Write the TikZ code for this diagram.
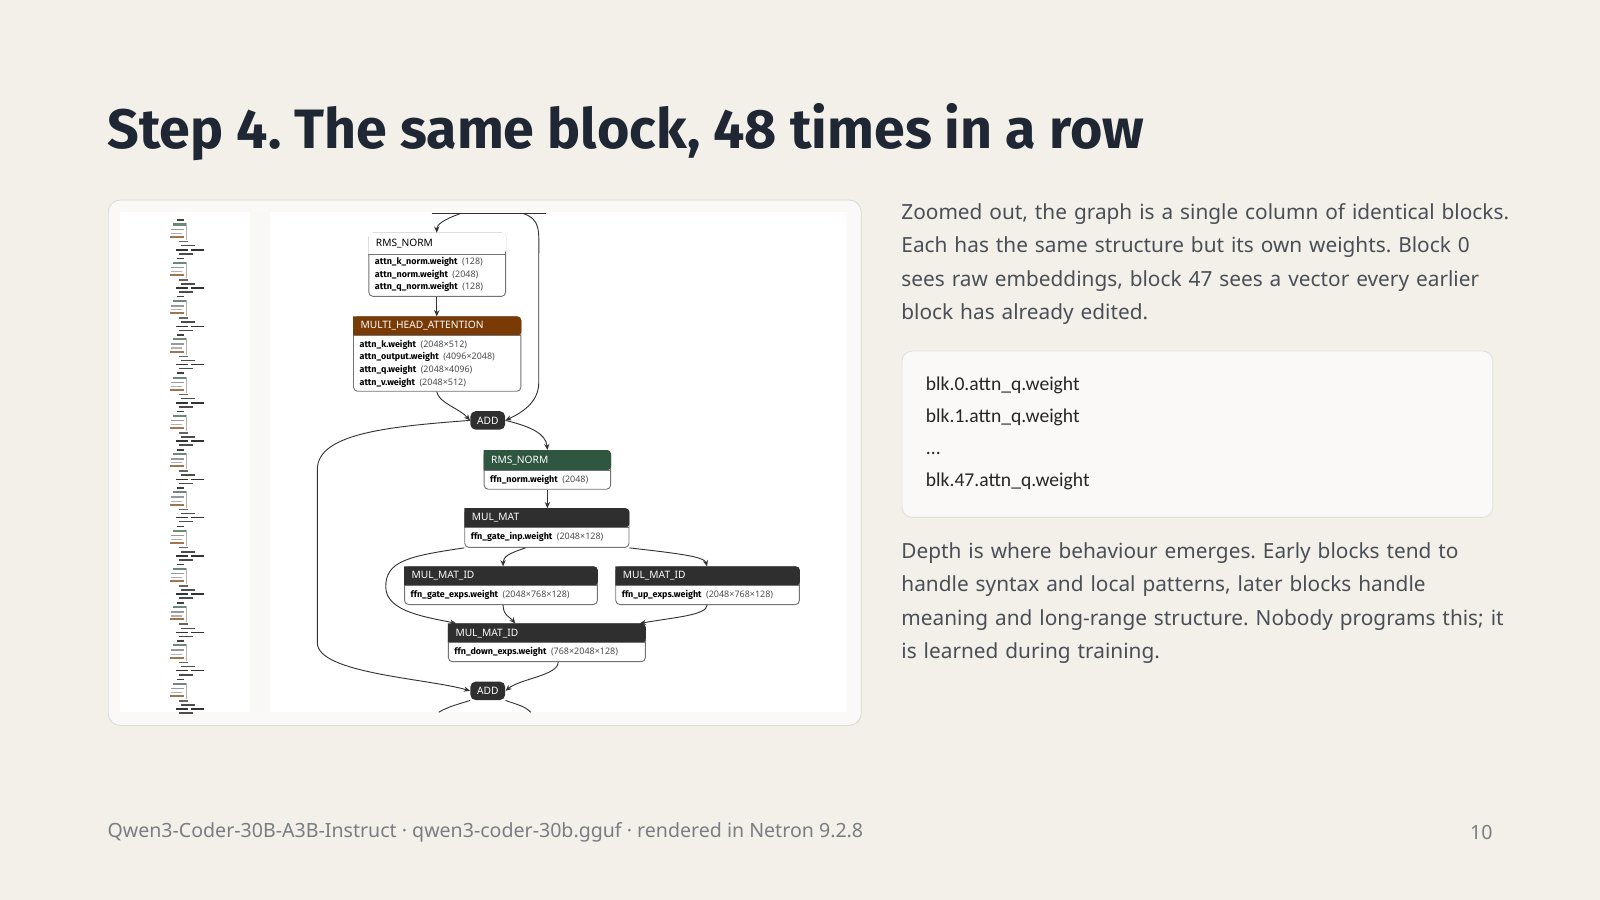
\documentclass[tikz,border=0pt]{standalone}
\usepackage{fontspec}
\setmainfont{Noto Sans}
\newfontfamily\codefont{Carlito}
\newfontfamily\headfont{Fira Sans}
\usetikzlibrary{arrows.meta}
\definecolor{pagebg}{HTML}{F3F0EA}
\definecolor{titlecol}{HTML}{1E2733}
\definecolor{bodycol}{HTML}{4A4F57}
\definecolor{notecol}{HTML}{7A7D82}
\definecolor{opdark}{HTML}{2F2F2F}
\definecolor{opbrown}{HTML}{7A3A06}
\definecolor{opgreen}{HTML}{2F5641}
\frenchspacing
\hyphenpenalty=10000
\exhyphenpenalty=10000
\tikzset{
  wire/.style={draw=black!80, line width=0.45pt, -{Stealth[length=3pt,width=2.6pt]}},
  plain/.style={draw=black!80, line width=0.45pt},
  addnode/.style={fill=opdark, rounded corners=2.5pt, text=white, font=\fontsize{5}{6}\selectfont, minimum width=17pt, minimum height=9pt, inner sep=0pt},
  bodytext/.style={text=bodycol, font=\fontsize{10.2}{16.4}\selectfont, align=left, anchor=north west, inner sep=0pt, text width=300pt}
}
% \opbox{name}{x}{y}{w}{h}{header h}{fill}{text colour}{title}
\newcommand{\opbox}[9]{%
  \node[draw=black!55, fill=white, rounded corners=2pt, line width=0.45pt, anchor=north west,
        minimum width=#4*0.5pt, minimum height=#5*0.5pt, inner sep=0pt] (#1) at (#2,#3) {};
  \fill[#7, rounded corners=2pt] (#1.north west) -- (#1.north east) -- ([yshift=-#6*0.5pt]#1.north east) [sharp corners] -- ([yshift=-#6*0.5pt]#1.north west) -- cycle;
  \draw[black!55, line width=0.45pt] ([yshift=-#6*0.5pt]#1.north west) -- ([yshift=-#6*0.5pt]#1.north east);
  \node[anchor=west, text=#8, font=\fontsize{5}{6}\selectfont, inner sep=0pt] at ([xshift=3.5pt, yshift=-#6*0.25pt]#1.north west) {#9};
}
\newcommand{\wline}[3]{%
  \node[anchor=west, inner sep=0pt, font=\fontsize{4.4}{5}\selectfont] at (#1) {{\headfont\bfseries #2}\enspace\textcolor{black!70}{(#3)}};
}
\begin{document}
\begin{tikzpicture}[x=0.5pt, y=-0.5pt]
  \fill[pagebg] (0,0) rectangle (1568,882);
  \useasboundingbox (0,0) rectangle (1568,882);

  % title and notes
  \node[anchor=west, inner sep=0pt, text=titlecol, font=\headfont\fontsize{27.2}{30}\selectfont\bfseries] (title) at (105,130) {Step 4. The same block, 48 times in a row};
  \node[anchor=west, inner sep=0pt, text=notecol, font=\fontsize{9.6}{12}\selectfont] (source) at (105,816) {Qwen3-Coder-30B-A3B-Instruct · qwen3-coder-30b.gguf · rendered in Netron 9.2.8};
  \node[anchor=east, inner sep=0pt, text=notecol, font=\fontsize{9.6}{12}\selectfont] (pagenum) at (1463,816) {10};

  % right column
  \node[bodytext] (para1) at (883,199) {Zoomed out, the graph is a single column of identical blocks. Each has the same structure but its own weights. Block 0 sees raw embeddings, block 47 sees a vector every earlier block has already edited.};
  \draw[black!12, fill=white!60!pagebg, rounded corners=5pt] (884,344) rectangle (1463,507);
  \node[anchor=north west, inner sep=0pt, font=\codefont\fontsize{9.6}{15.6}\selectfont, text=black!85, align=left] (names) at (907,369) {blk.0.attn\_q.weight\\blk.1.attn\_q.weight\\...\\blk.47.attn\_q.weight};
  \node[bodytext, align=left] (para2) at (883,531) {Depth is where behaviour emerges. Early blocks tend to\\handle syntax and local patterns, later blocks handle\\meaning and long-range structure. Nobody programs this; it\\is learned during training.};

  % screenshot frame
  \draw[black!15, fill=white!60!pagebg, rounded corners=6pt] (106,196) rectangle (844,711);
  \fill[white] (118,208) rectangle (830,698);
  \fill[white!55!pagebg] (245,208) rectangle (265,698);

  % miniature column
  \foreach \k in {0,...,12} {
    \pgfmathsetmacro{\yy}{215+37.5*\k}
    \fill[black!75] (173,\yy) rectangle +(7,1.5);
    \fill[opgreen!70] (170,\yy+4) rectangle +(12,2);
    \fill[black!40] (168,\yy+9) rectangle +(12,1.5);
    \fill[black!30] (168,\yy+13) rectangle +(10,1.2);
    \fill[opbrown!70] (167,\yy+16) rectangle +(13,2);
    \fill[black!60] (175,\yy+21) rectangle +(9,1.5);
    \fill[black!70] (177,\yy+25) rectangle +(14,1.5);
    \fill[black!80] (172,\yy+29) rectangle +(12,1.5);
    \fill[black!80] (187,\yy+29) rectangle +(13,1.5);
    \fill[black!70] (175,\yy+33) rectangle +(14,1.5);
    \draw[black!30, line width=0.2pt] (182,\yy+4) -- (182,\yy+20);
  }

  % graph fragment
  \draw[plain] (423,209) -- (535,209);
  \opbox{rmsa}{361}{228}{134}{62}{21}{white}{black}{RMS\_NORM}
  \wline{367,257}{attn\_k\_norm.weight}{128}
  \wline{367,269}{attn\_norm.weight}{2048}
  \wline{367,281}{attn\_q\_norm.weight}{128}

  \opbox{mha}{346}{310}{164}{73}{19}{opbrown}{white}{MULTI\_HEAD\_ATTENTION}
  \wline{352,338}{attn\_k.weight}{2048×512}
  \wline{352,350}{attn\_output.weight}{4096×2048}
  \wline{352,362}{attn\_q.weight}{2048×4096}
  \wline{352,375}{attn\_v.weight}{2048×512}

  \node[addnode] (adda) at (478,412) {ADD};

  \opbox{rmsb}{474}{441}{124}{38}{20}{opgreen}{white}{RMS\_NORM}
  \wline{480,470}{ffn\_norm.weight}{2048}

  \opbox{mm}{455}{498}{161}{38}{19}{opdark}{white}{MUL\_MAT}
  \wline{461,526}{ffn\_gate\_inp.weight}{2048×128}

  \opbox{mmida}{396}{555}{189}{37}{19}{opdark}{white}{MUL\_MAT\_ID}
  \wline{402,583}{ffn\_gate\_exps.weight}{2048×768×128}

  \opbox{mmidb}{603}{555}{180}{37}{19}{opdark}{white}{MUL\_MAT\_ID}
  \wline{609,583}{ffn\_up\_exps.weight}{2048×768×128}

  \opbox{mmidc}{439}{611}{193}{37}{19}{opdark}{white}{MUL\_MAT\_ID}
  \wline{445,639}{ffn\_down\_exps.weight}{768×2048×128}

  \node[addnode] (addb) at (478,677) {ADD};

  \coordinate (topa) at (452,209);
  \coordinate (topb) at (512,209);
  \coordinate (outa) at (430,698);
  \coordinate (outb) at (520,698);

  \draw[wire] (topa) .. controls (435,215) and (428,220) .. (rmsa.north -| 428,0);
  \draw[wire] (topb) .. controls (530,215) and (528,225) .. (528,250) -- (528,375) .. controls (528,395) and (510,405) .. (adda.east);
  \draw[wire] (rmsa.south -| 428,0) -- (mha.north -| 428,0);
  \draw[wire] (mha.south -| 428,0) .. controls (430,395) and (450,400) .. (adda.west);
  \draw[wire] (adda.east) .. controls (520,418) and (535,425) .. (rmsb.north);
  \draw[wire] (adda.west) .. controls (380,418) and (311,425) .. (311,460) -- (311,630) .. controls (311,660) and (420,665) .. (addb.west);
  \draw[wire] (rmsb.south) -- (mm.north -| rmsb.south);
  \draw[wire] (mm.south -| 515,0) .. controls (500,542) and (493,545) .. (mmida.north -| 493,0);
  \draw[wire] (mm.south east) .. controls (660,542) and (690,545) .. (mmidb.north -| 693,0);
  \draw[wire] (mm.south west) .. controls (400,545) and (378,550) .. (378,575) .. controls (378,600) and (420,605) .. ([xshift=4pt]mmidc.north west);
  \draw[wire] (mmida.south -| 493,0) .. controls (493,603) and (500,605) .. (mmidc.north -| 505,0);
  \draw[wire] (mmidb.south -| 693,0) .. controls (693,603) and (660,605) .. ([xshift=-3pt]mmidc.north east);
  \draw[wire] (mmidc.south -| 547,0) .. controls (547,662) and (510,665) .. (addb.east);
  \draw[plain] (addb.south west) .. controls (450,690) and (440,692) .. (outa);
  \draw[plain] (addb.south east) .. controls (505,690) and (515,692) .. (outb);
\end{tikzpicture}
\end{document}
